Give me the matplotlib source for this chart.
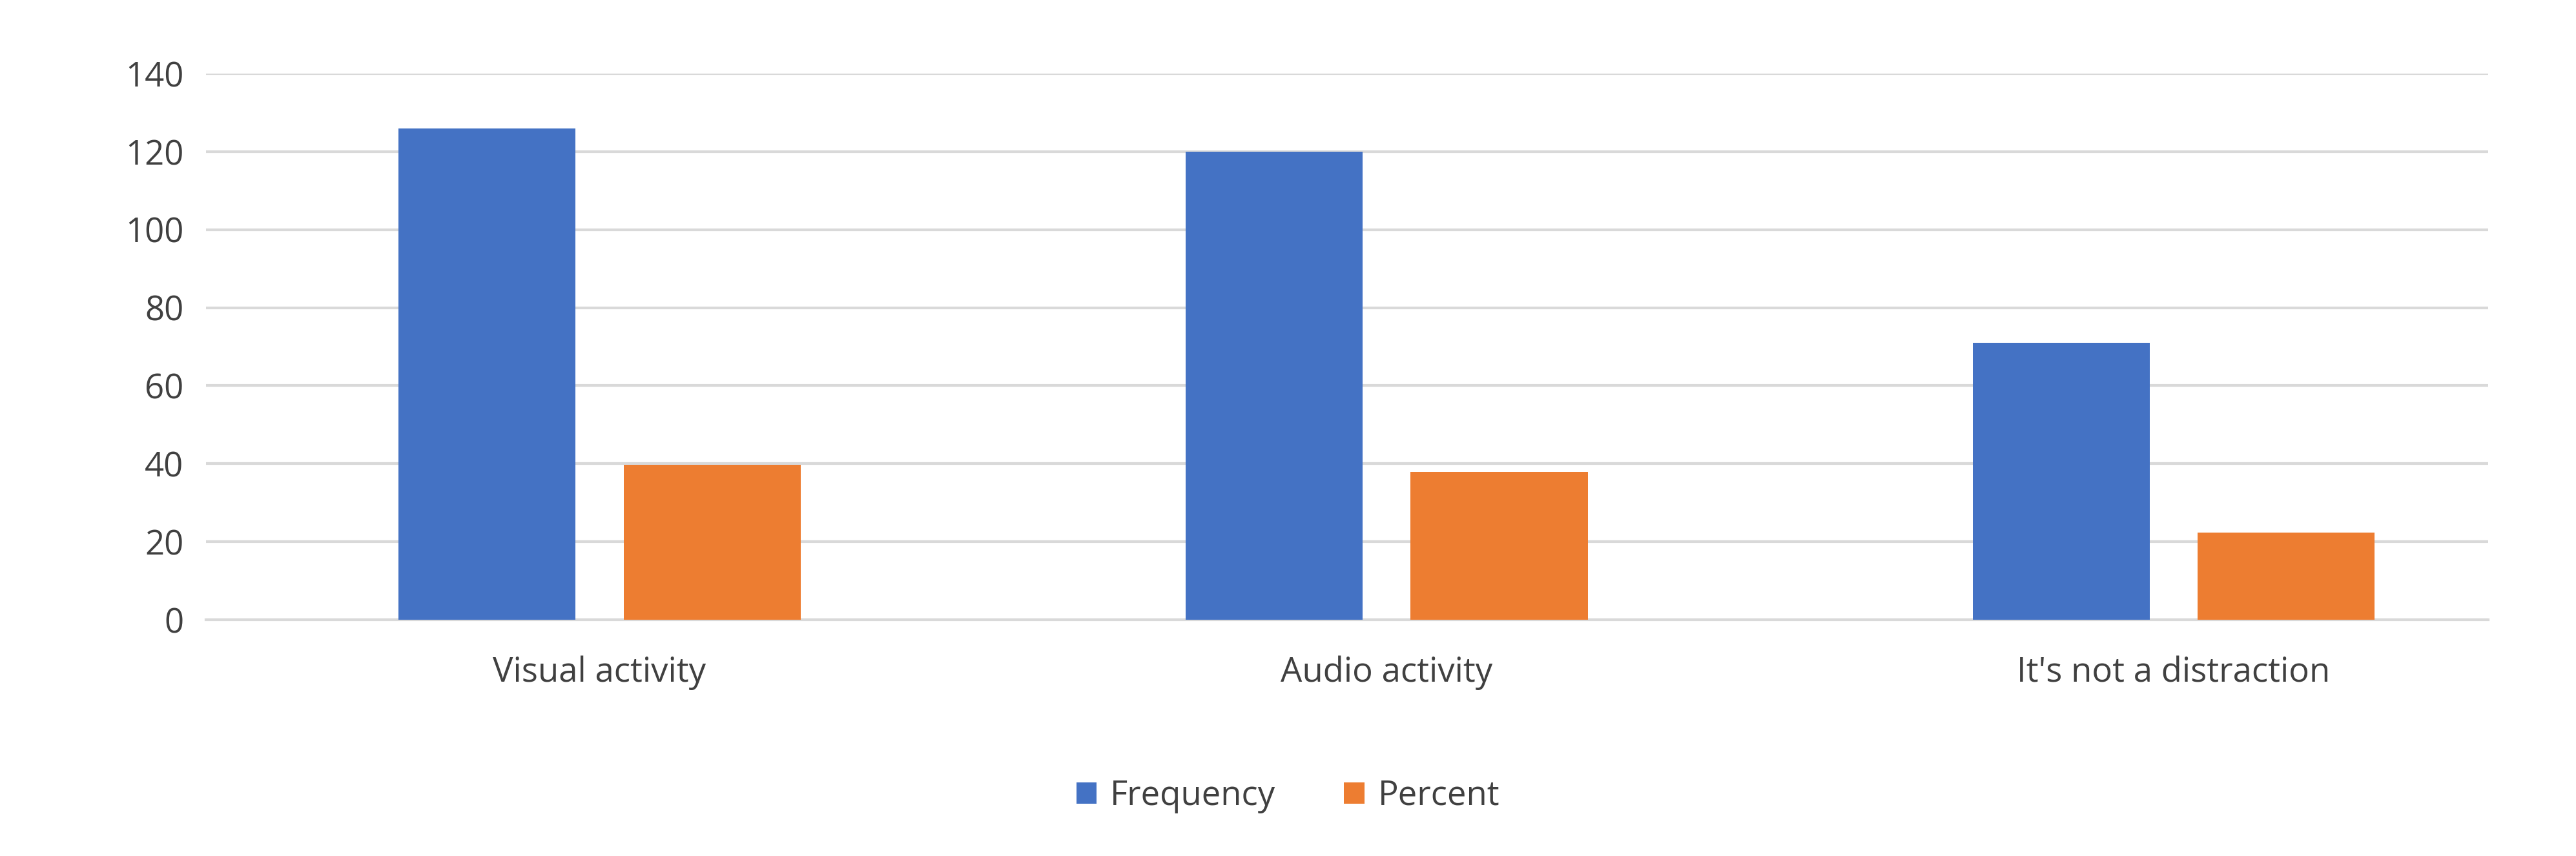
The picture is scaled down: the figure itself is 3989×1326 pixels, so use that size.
import numpy as np
import matplotlib.pyplot as plt

categories = ["Visual activity", "Audio activity", "It's not a distraction"]
frequency = [126, 120, 71]
percent = [39.7, 37.9, 22.4]

plt.rcParams["font.family"] = ["Open Sans", "DejaVu Sans"]

fig = plt.figure(figsize=(39.89, 13.26), dpi=100)
ax = fig.add_axes([0.08, 0.276, 0.886, 0.638])

x = np.arange(len(categories))
w = 0.225
ax.bar(x - 0.143, frequency, w, color="#4472C4", label="Frequency", zorder=3)
ax.bar(x + 0.143, percent, w, color="#ED7D31", label="Percent", zorder=3)

ax.set_ylim(0, 140)
ax.set_yticks(range(0, 141, 20))
ax.set_xlim(-0.5, 2.4)
ax.set_xticks(x)
ax.set_xticklabels(categories)
ax.grid(axis="y", color="#d9d9d9", linewidth=3, zorder=0)
for s in ["top", "right", "left"]:
    ax.spines[s].set_visible(False)
ax.spines["bottom"].set_color("#d9d9d9")
ax.spines["bottom"].set_linewidth(3)
ax.tick_params(length=0, labelsize=38, labelcolor="#404040")
ax.tick_params(axis="x", pad=40)
ax.tick_params(axis="y", pad=25)

fig.legend(loc="center", bbox_to_anchor=(0.5, 0.07), ncol=2, frameon=False,
           fontsize=38, labelcolor="#404040", handlelength=0.6, handleheight=0.6,
           columnspacing=2.0, handletextpad=0.4)

fig.savefig("out.png", dpi=100)
